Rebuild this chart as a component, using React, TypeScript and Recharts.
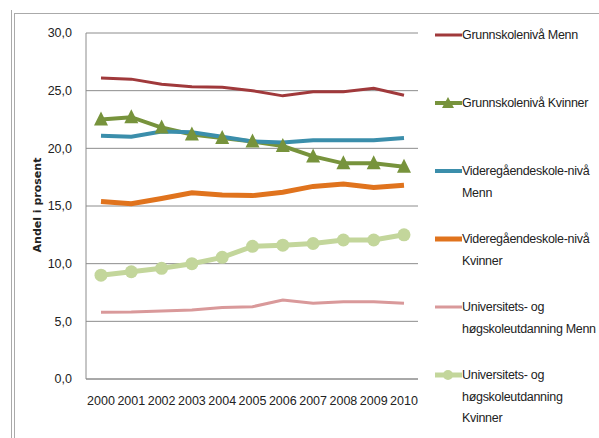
import React from "react";
import { LineChart, Line, XAxis, YAxis, CartesianGrid, Label } from "recharts";

const years = ["2000", "2001", "2002", "2003", "2004", "2005", "2006", "2007", "2008", "2009", "2010"];
const grunnMenn = [26.1, 26.0, 25.55, 25.35, 25.3, 25.0, 24.55, 24.9, 24.9, 25.2, 24.6];
const grunnKvinner = [22.5, 22.7, 21.8, 21.2, 20.9, 20.6, 20.2, 19.3, 18.7, 18.7, 18.4];
const vgsMenn = [21.1, 21.0, 21.45, 21.4, 21.0, 20.6, 20.5, 20.7, 20.7, 20.7, 20.9];
const vgsKvinner = [15.4, 15.2, 15.65, 16.15, 15.95, 15.9, 16.2, 16.7, 16.9, 16.6, 16.8];
const uniMenn = [5.78, 5.8, 5.9, 5.98, 6.2, 6.27, 6.85, 6.56, 6.7, 6.7, 6.56];
const uniKvinner = [9.0, 9.3, 9.6, 10.0, 10.55, 11.5, 11.6, 11.75, 12.05, 12.05, 12.5];
const yTicks = [0, 5, 10, 15, 20, 25, 30];

const seriesKeys = ["gm", "gk", "vm", "vk", "um", "uk"];
const seriesLabels = [
  ["Grunnskolenivå Menn"],
  ["Grunnskolenivå Kvinner"],
  ["Videregåendeskole-nivå", "Menn"],
  ["Videregåendeskole-nivå", "Kvinner"],
  ["Universitets- og", "høgskoleutdanning Menn"],
  ["Universitets- og", "høgskoleutdanning", "Kvinner"],
];
const seriesColors = ["#A0393B", "#77933C", "#3B8EAB", "#E0731D", "#D9999A", "#C3D69B"];
const seriesWidths = [3, 4, 4, 5, 3, 5];
const seriesMarkers = ["none", "triangle", "none", "none", "none", "circle"];

const data = years.map((y, i) => ({
  year: y,
  gm: grunnMenn[i],
  gk: grunnKvinner[i],
  vm: vgsMenn[i],
  vk: vgsKvinner[i],
  um: uniMenn[i],
  uk: uniKvinner[i],
}));

const FONT = "'Liberation Sans', Arial, sans-serif";

const Triangle = (props: any) => {
  const { cx, cy, fill } = props;
  if (cx == null || cy == null) return <g key={props.key} />;
  return (
    <polygon
      key={props.key}
      points={`${cx},${cy - 8} ${cx + 7},${cy + 6} ${cx - 7},${cy + 6}`}
      fill={fill}
    />
  );
};

const Circle = (props: any) => {
  const { cx, cy, fill } = props;
  if (cx == null || cy == null) return <g key={props.key} />;
  return <circle key={props.key} cx={cx} cy={cy} r={6.5} fill={fill} />;
};

const LegendBox = () => (
  <div
    style={{
      position: "absolute",
      left: 434,
      top: 25,
      width: 165,
      fontFamily: FONT,
      fontSize: 12.5,
      letterSpacing: -0.3,
      color: "#222",
    }}
  >
    {seriesKeys.map((k, i) => (
      <div key={k} style={{ position: "absolute", left: 0, top: i * 68, width: 165 }}>
        <svg width={28} height={14} style={{ position: "absolute", left: 0, top: 3 }}>
          <line x1={1} y1={7} x2={28} y2={7} stroke={seriesColors[i]} strokeWidth={seriesWidths[i]} />
          {seriesMarkers[i] === "triangle" && <polygon points="14,1 20,12 8,12" fill={seriesColors[i]} />}
          {seriesMarkers[i] === "circle" && <circle cx={14} cy={7} r={5} fill={seriesColors[i]} />}
        </svg>
        <div style={{ position: "absolute", left: 28, top: 0, lineHeight: "21.7px", whiteSpace: "nowrap" }}>
          {seriesLabels[i].map((l, j) => (
            <div key={j}>{l}</div>
          ))}
        </div>
      </div>
    ))}
  </div>
);

const YLabel = (props: any) => {
  const vb = props.viewBox || {};
  const cy = vb.y + vb.height / 2 - 1;
  return (
    <text
      x={37}
      y={cy}
      transform={`rotate(-90, 37, ${cy})`}
      textAnchor="middle"
      dominantBaseline="central"
      style={{ fontFamily: "'DejaVu Sans', sans-serif", fontSize: 11, fontWeight: "bold", fill: "#222" }}
    >
      Andel i prosent
    </text>
  );
};

export default function App() {
  return (
    <div style={{ position: "absolute", left: 0, top: 0, width: 599, height: 438, background: "#fff", overflow: "hidden" }}>
      <div style={{ position: "absolute", left: 11, top: 10, width: 1, height: 428, background: "#aaa" }} />
      <div style={{ position: "absolute", left: 14, top: 13, width: 1, height: 425, background: "#aaa" }} />
      <div style={{ position: "absolute", left: 14, top: 13, width: 585, height: 1, background: "#aaa" }} />
      <div style={{ position: "absolute", left: 0, top: 0 }}>
        <LineChart width={599} height={438} data={data} margin={{ top: 33, right: 181, bottom: 29, left: 0 }}>
          <CartesianGrid horizontal vertical={false} stroke="#8c8c8c" strokeWidth={1} />
          <XAxis
            dataKey="year"
            height={30}
            padding={{ left: 15, right: 14 }}
            tickLine={false}
            tickSize={0}
            tickMargin={17}
            axisLine={{ stroke: "#8c8c8c" }}
            tick={{ fontFamily: FONT, fontSize: 12.5, fill: "#222" }}
            interval={0}
          />
          <YAxis
            width={86}
            domain={[0, 30]}
            ticks={yTicks}
            tickFormatter={(v: number) => v.toFixed(1).replace(".", ",")}
            tickLine={false}
            tickSize={0}
            tickMargin={14}
            axisLine={{ stroke: "#8c8c8c" }}
            tick={{ fontFamily: FONT, fontSize: 12.5, fill: "#222" }}
          >
            <Label content={<YLabel />} />
          </YAxis>
          {seriesKeys.map((k, i) => (
            <Line
              key={k}
              dataKey={k}
              type="linear"
              stroke={seriesColors[i]}
              strokeWidth={seriesWidths[i]}
              isAnimationActive={false}
              dot={
                seriesMarkers[i] === "triangle"
                  ? (p: any) => <Triangle {...p} fill={seriesColors[i]} />
                  : seriesMarkers[i] === "circle"
                  ? (p: any) => <Circle {...p} fill={seriesColors[i]} />
                  : false
              }
              activeDot={false}
            />
          ))}
        </LineChart>
      </div>
      <LegendBox />
    </div>
  );
}
